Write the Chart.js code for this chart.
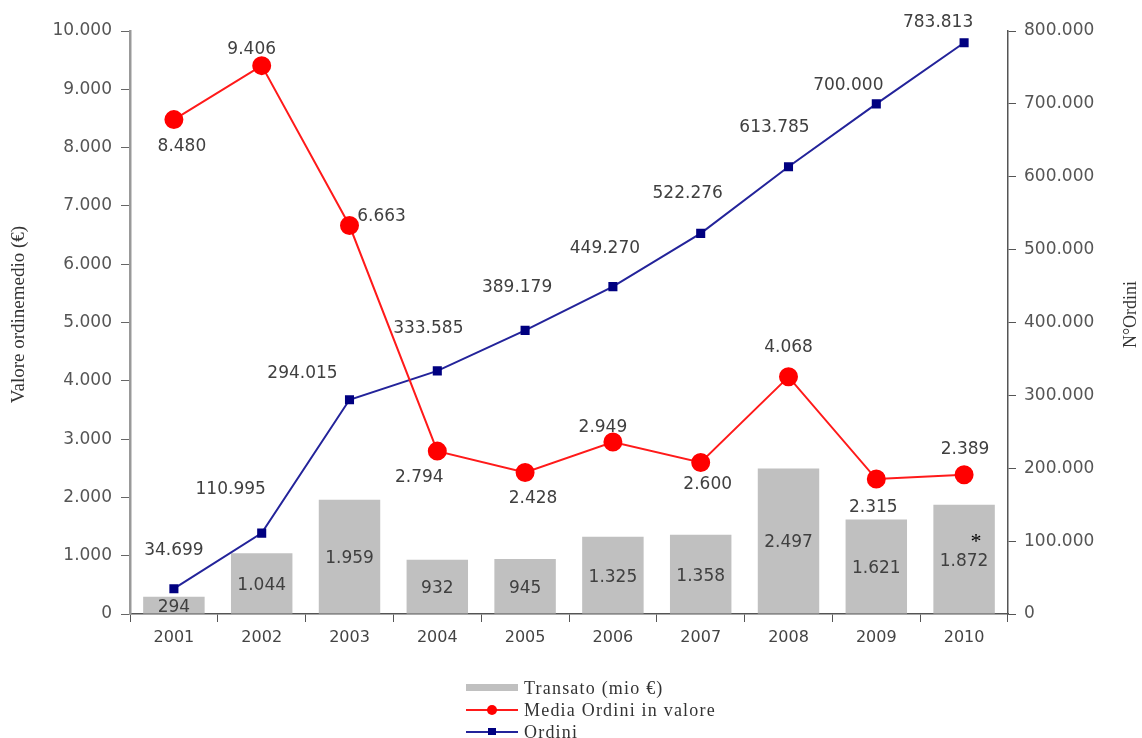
<!DOCTYPE html>
<html>
<head>
<meta charset="utf-8">
<script src="https://cdn.jsdelivr.net/npm/chart.js@4.4.1/dist/chart.umd.min.js"></script>
<style>
  html, body { margin: 0; padding: 0; background: #fff; }
  #wrap { width: 1142px; height: 738px; position: relative; }
</style>
</head>
<body>
<div id="wrap"><canvas id="chart"></canvas></div>
<script>
/* ---------- Data ---------- */
const years = ["2001", "2002", "2003", "2004", "2005", "2006", "2007", "2008", "2009", "2010"];
const transato = [294, 1044, 1959, 932, 945, 1325, 1358, 2497, 1621, 1872];
const mediaOrdini = [8480, 9406, 6663, 2794, 2428, 2949, 2600, 4068, 2315, 2389];
const ordini = [34699, 110995, 294015, 333585, 389179, 449270, 522276, 613785, 700000, 783813];
const barNotes = ["", "", "", "", "", "", "", "", "", "*"];

const leftTicks = [0, 1000, 2000, 3000, 4000, 5000, 6000, 7000, 8000, 9000, 10000];
const rightTicks = [0, 100000, 200000, 300000, 400000, 500000, 600000, 700000, 800000];

/* label offsets (px) from each point, as placed in the original */
const redLabelOffsets = [[8, 27], [-10, -16], [32, -9], [-18, 26], [8, 26], [-10, -14], [7, 22], [0, -29], [-3, 29], [1, -25]];
const blueLabelOffsets = [[0, -38], [-31, -44], [-47, -26], [-9, -42], [-8, -43], [-8, -38], [-13, -40], [-14, -39], [-28, -18], [-26, -20]];

const fmt = (v) => String(Math.round(v)).replace(/\B(?=(\d{3})+(?!\d))/g, ".");

const TICK_FONT = { family: "'DejaVu Sans', Verdana, sans-serif", size: 17 };
const LABEL_FONT = "17px 'DejaVu Sans', Verdana, sans-serif";
const SERIF = "'Liberation Serif', 'Times New Roman', serif";

/* ---------- Plugin: data labels, axis titles, legend ---------- */
const decorPlugin = {
  id: "decor",
  afterDatasetsDraw(chart) {
    const ctx = chart.ctx;
    const area = chart.chartArea;
    ctx.save();
    ctx.textAlign = "center";
    ctx.textBaseline = "middle";

    // bars: value in the middle of the bar
    chart.getDatasetMeta(0).data.forEach((el, i) => {
      const y = (el.y + el.base) / 2 + 2;
      ctx.fillStyle = "#404040";
      ctx.font = LABEL_FONT;
      ctx.fillText(fmt(transato[i]), el.x, y);
      if (barNotes[i]) {
        ctx.fillStyle = "#000";
        ctx.font = "22px " + SERIF;
        ctx.fillText(barNotes[i], el.x + 12, y - 19);
      }
    });

    ctx.font = LABEL_FONT;
    ctx.fillStyle = "#404040";
    chart.getDatasetMeta(1).data.forEach((el, i) => {
      const [dx, dy] = redLabelOffsets[i];
      ctx.fillText(fmt(mediaOrdini[i]), el.x + dx, el.y + dy);
    });
    chart.getDatasetMeta(2).data.forEach((el, i) => {
      const [dx, dy] = blueLabelOffsets[i];
      ctx.fillText(fmt(ordini[i]), el.x + dx, el.y + dy);
    });

    // axis titles (both read bottom to top)
    const midY = (area.top + area.bottom) / 2 - 8;
    ctx.fillStyle = "#333";
    ctx.font = "19px " + SERIF;
    ctx.save();
    ctx.translate(19, midY);
    ctx.rotate(-Math.PI / 2);
    ctx.fillText("Valore ordinemedio (€)", 0, 0);
    ctx.restore();
    ctx.font = "18px " + SERIF;
    ctx.save();
    ctx.translate(1131, midY);
    ctx.rotate(-Math.PI / 2);
    ctx.fillText("N°Ordini", 0, 0);
    ctx.restore();

    // legend (vertical list under the axis)
    const lx = 466, lw = 52, rows = [688, 710, 732];
    ctx.textAlign = "left";
    ctx.font = "18px " + SERIF;
    if ("letterSpacing" in ctx) ctx.letterSpacing = "1.2px";
    chart.data.datasets.forEach((ds, i) => {
      const y = rows[i];
      if (ds.type === "bar") {
        ctx.fillStyle = ds.backgroundColor;
        ctx.fillRect(lx, y - 4, lw, 7);
      } else {
        ctx.strokeStyle = ds.borderColor;
        ctx.lineWidth = 2;
        ctx.beginPath();
        ctx.moveTo(lx, y);
        ctx.lineTo(lx + lw, y);
        ctx.stroke();
        ctx.fillStyle = ds.pointBackgroundColor;
        if (ds.pointStyle === "rect") {
          ctx.fillRect(lx + lw / 2 - 4, y - 4, 8, 7);
        } else {
          ctx.beginPath();
          ctx.arc(lx + lw / 2, y, 5, 0, Math.PI * 2);
          ctx.fill();
        }
      }
      ctx.fillStyle = "#333";
      ctx.fillText(ds.label, lx + lw + 6, y + 1);
    });
    ctx.restore();
  }
};

/* ---------- Chart ---------- */
new Chart(document.getElementById("chart"), {
  data: {
    labels: years,
    datasets: [
      {
        type: "bar",
        label: "Transato (mio €)",
        data: transato,
        yAxisID: "y",
        backgroundColor: "#c0c0c0",
        categoryPercentage: 0.7,
        barPercentage: 1.0,
        order: 3
      },
      {
        type: "line",
        label: "Media Ordini in valore",
        data: mediaOrdini,
        yAxisID: "y",
        borderColor: "#ff1a1a",
        borderWidth: 2,
        pointBackgroundColor: "#ff0000",
        pointBorderColor: "#ff0000",
        pointRadius: 8.5,
        pointStyle: "circle",
        tension: 0,
        order: 1
      },
      {
        type: "line",
        label: "Ordini",
        data: ordini,
        yAxisID: "y1",
        borderColor: "#23239a",
        borderWidth: 2,
        pointBackgroundColor: "#000080",
        pointBorderColor: "#000080",
        pointRadius: 5,
        pointStyle: "rect",
        tension: 0,
        order: 2
      }
    ]
  },
  options: {
    responsive: true,
    maintainAspectRatio: false,
    animation: false,
    layout: { padding: { top: 31, left: 0, right: 0, bottom: 0 } },
    plugins: {
      legend: { display: false },
      tooltip: { enabled: false }
    },
    scales: {
      x: {
        offset: true,
        grid: { offset: true, drawOnChartArea: false, drawTicks: true, tickLength: 8, color: "#555" },
        border: { color: "#555", width: 1.5 },
        ticks: { font: { family: TICK_FONT.family, size: 16 }, color: "#444", padding: 6, maxRotation: 0 },
        afterFit: (s) => { s.height = 124; }
      },
      y: {
        position: "left",
        min: 0,
        max: 10000,
        afterBuildTicks: (s) => { s.ticks = leftTicks.map((v) => ({ value: v })); },
        grid: { drawOnChartArea: false, drawTicks: true, tickLength: 9, color: "#666" },
        border: { color: "#999", width: 2.5 },
        ticks: { font: TICK_FONT, color: "#555", padding: 9, callback: (v) => fmt(v) },
        afterFit: (s) => { s.width = 130; }
      },
      y1: {
        position: "right",
        min: 0,
        max: 800000,
        afterBuildTicks: (s) => { s.ticks = rightTicks.map((v) => ({ value: v })); },
        grid: { drawOnChartArea: false, drawTicks: true, tickLength: 8, color: "#555" },
        border: { color: "#555", width: 1.5 },
        ticks: { font: TICK_FONT, color: "#555", padding: 8, callback: (v) => fmt(v) },
        afterFit: (s) => { s.width = 134; }
      }
    }
  },
  plugins: [decorPlugin]
});
</script>
</body>
</html>
